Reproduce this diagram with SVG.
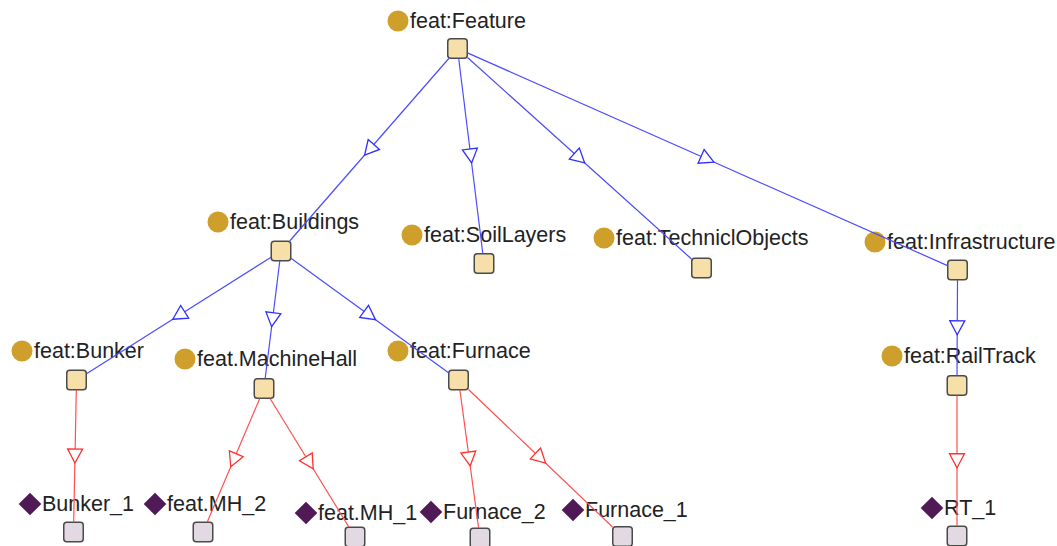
<svg xmlns="http://www.w3.org/2000/svg" width="1057" height="546" viewBox="0 0 1057 546">
<style>
text{font-family:"Liberation Sans",Arial,sans-serif;font-size:21.5px;fill:#222}
.cls{fill:#f6dfa8;stroke:#4a4a4a;stroke-width:1.5}
.ind{fill:#e2d9e2;stroke:#4a4a4a;stroke-width:1.5}
.cir{fill:#cf9f2c}
.dia{fill:#4f1a55}
.sub{fill:none;stroke:#4b4bff;stroke-width:1.2;marker-mid:url(#tb)}
.inst{fill:none;stroke:#ff4f4f;stroke-width:1.2;marker-mid:url(#tr)}
</style>
<defs>
<marker id="tb" markerUnits="userSpaceOnUse" markerWidth="20" markerHeight="20" viewBox="-10 -10 20 20" refX="0" refY="0" orient="auto"><path d="M7,0 L-7,-7.5 L-7,7.5 Z" fill="#fff" stroke="#3030ff" stroke-width="1.3"/></marker>
<marker id="tr" markerUnits="userSpaceOnUse" markerWidth="20" markerHeight="20" viewBox="-10 -10 20 20" refX="0" refY="0" orient="auto"><path d="M7,0 L-7,-7.5 L-7,7.5 Z" fill="#fff" stroke="#ff3030" stroke-width="1.3"/></marker>
<rect id="sq" x="-9.75" y="-9.75" width="19.5" height="19.5" rx="3"/>
</defs>

<g id="feature"><circle class="cir" cx="398" cy="21" r="10.5"/><text x="410" y="28">feat:Feature</text><use href="#sq" class="cls" x="457.5" y="48.5"/></g>
<g id="buildings"><circle class="cir" cx="218" cy="222" r="10.5"/><text x="230" y="229">feat:Buildings</text><use href="#sq" class="cls" x="281" y="251"/></g>
<g id="soillayers"><circle class="cir" cx="412" cy="235" r="10.5"/><text x="424" y="242">feat:SoilLayers</text><use href="#sq" class="cls" x="484" y="263.5"/></g>
<g id="technicobjects"><circle class="cir" cx="604" cy="238" r="10.5"/><text x="616" y="245">feat:TechniclObjects</text><use href="#sq" class="cls" x="701.5" y="268"/></g>
<g id="infrastructure"><circle class="cir" cx="875" cy="242" r="10.5"/><text x="887" y="249">feat:Infrastructure</text><use href="#sq" class="cls" x="957.5" y="270"/></g>
<g id="bunker"><circle class="cir" cx="22" cy="351" r="10.5"/><text x="34" y="358">feat:Bunker</text><use href="#sq" class="cls" x="76.5" y="380"/></g>
<g id="machinehall"><circle class="cir" cx="185" cy="359" r="10.5"/><text x="197" y="366">feat.MachineHall</text><use href="#sq" class="cls" x="264" y="388.5"/></g>
<g id="furnace"><circle class="cir" cx="398" cy="351" r="10.5"/><text x="410" y="358">feat:Furnace</text><use href="#sq" class="cls" x="458.5" y="380"/></g>
<g id="railtrack"><circle class="cir" cx="892" cy="356" r="10.5"/><text x="904" y="363">feat:RailTrack</text><use href="#sq" class="cls" x="957" y="385.5"/></g>

<g id="bunker_1"><rect class="dia" x="-8" y="-8" width="16" height="16" transform="translate(30,504) rotate(45)"/><text x="42" y="511">Bunker_1</text><use href="#sq" class="ind" x="73.5" y="532"/></g>
<g id="mh_2"><rect class="dia" x="-8" y="-8" width="16" height="16" transform="translate(155,504) rotate(45)"/><text x="167" y="511">feat.MH_2</text><use href="#sq" class="ind" x="203" y="532"/></g>
<g id="mh_1"><rect class="dia" x="-8" y="-8" width="16" height="16" transform="translate(306,513) rotate(45)"/><text x="318" y="520">feat.MH_1</text><use href="#sq" class="ind" x="355" y="537"/></g>
<g id="furnace_2"><rect class="dia" x="-8" y="-8" width="16" height="16" transform="translate(431,512) rotate(45)"/><text x="443" y="519">Furnace_2</text><use href="#sq" class="ind" x="480" y="538"/></g>
<g id="furnace_1"><rect class="dia" x="-8" y="-8" width="16" height="16" transform="translate(573,510) rotate(45)"/><text x="585" y="517">Furnace_1</text><use href="#sq" class="ind" x="622.5" y="536.5"/></g>
<g id="rt_1"><rect class="dia" x="-8" y="-8" width="16" height="16" transform="translate(932,508) rotate(45)"/><text x="944" y="515">RT_1</text><use href="#sq" class="ind" x="957" y="536"/></g>

<g id="connectors">
<path class="sub" d="M448.8,58.5 L369.25,149.75 L289.7,241"/>
<path class="sub" d="M458.7,58.5 L470.75,156 L482.8,253.5"/>
<path class="sub" d="M467.5,57.5 L579.5,158.25 L691.5,259"/>
<path class="sub" d="M467.5,52.9 L707.5,159.25 L947.5,265.6"/>
<path class="sub" d="M271,257.3 L178.75,315.5 L86.5,373.7"/>
<path class="sub" d="M279.8,261 L272.5,319.75 L265.2,378.5"/>
<path class="sub" d="M291,258.3 L369.75,315.5 L448.5,372.7"/>
<path class="sub" d="M957.5,280 L957.25,327.75 L957,375.5"/>
<path class="inst" d="M76.3,390 L75,456 L73.7,522"/>
<path class="inst" d="M259.75,398.5 L233.5,460.25 L207.25,522"/>
<path class="inst" d="M270.1,398.5 L309.5,462.75 L348.9,527"/>
<path class="inst" d="M459.9,390 L469.25,459 L478.6,528"/>
<path class="inst" d="M468.5,389.5 L540.5,458.25 L612.5,527"/>
<path class="inst" d="M957,395.5 L957,460.75 L957,526"/>
</g>
</svg>
